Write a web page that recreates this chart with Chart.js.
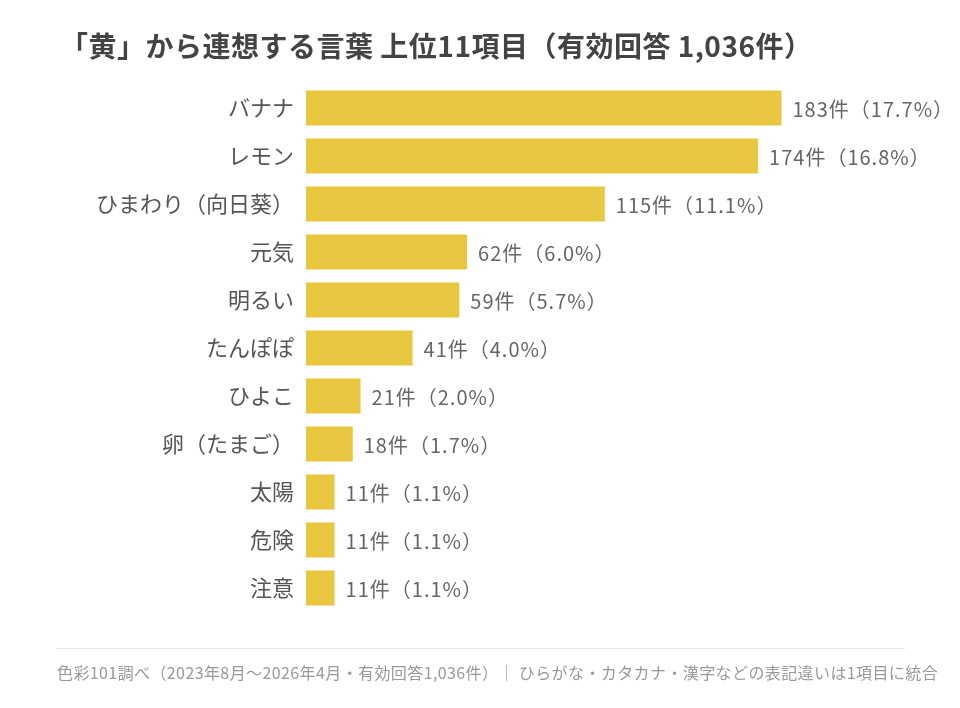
<!DOCTYPE html>
<html lang="ja">
<head>
<meta charset="utf-8">
<title>「黄」から連想する言葉</title>
<script src="https://cdn.jsdelivr.net/npm/chart.js@4/dist/chart.umd.min.js"></script>
<style>
  html, body { margin: 0; padding: 0; background: #fff; }
  #wrap { width: 960px; height: 708px; position: relative; }
</style>
</head>
<body>
<div id="wrap"><canvas id="yellowWordsChart"></canvas></div>
<script>
const titleText = '「黄」から連想する言葉 上位11項目（有効回答 1,036件）';
const footerText = '色彩101調べ（2023年8月〜2026年4月・有効回答1,036件）｜ ひらがな・カタカナ・漢字などの表記違いは1項目に統合';

const words = ['バナナ', 'レモン', 'ひまわり（向日葵）', '元気', '明るい', 'たんぽぽ', 'ひよこ', '卵（たまご）', '太陽', '危険', '注意'];
const counts = [183, 174, 115, 62, 59, 41, 21, 18, 11, 11, 11];
const shares = ['17.7', '16.8', '11.1', '6.0', '5.7', '4.0', '2.0', '1.7', '1.1', '1.1', '1.1'];

const FONT = '"Noto Sans CJK JP", "Noto Sans", sans-serif';

// title, footer rule, footer note and the value labels next to bars
const decorations = {
    id: 'decorations',
    afterDatasetsDraw(chart) {
        const ctx = chart.ctx;
        ctx.save();

        ctx.fillStyle = '#666';
        ctx.font = '20px ' + FONT;
        ctx.letterSpacing = '1px';
        ctx.textAlign = 'left';
        ctx.textBaseline = 'middle';
        chart.getDatasetMeta(0).data.forEach((bar, i) => {
            ctx.fillText(counts[i] + '件（' + shares[i] + '%）', bar.x + 11, bar.y + 1);
        });

        ctx.fillStyle = '#444';
        ctx.font = 'bold 28px ' + FONT;
        ctx.letterSpacing = '0.5px';
        ctx.fillText(titleText, 60, 46);

        ctx.strokeStyle = '#e6e6e6';
        ctx.lineWidth = 1;
        ctx.beginPath();
        ctx.moveTo(57, 648.5);
        ctx.lineTo(905, 648.5);
        ctx.stroke();

        ctx.fillStyle = '#999';
        ctx.font = '16px ' + FONT;
        ctx.letterSpacing = '0.4px';
        ctx.fillText(footerText, 57, 673);
        ctx.restore();
    }
};

const ctx = document.getElementById('yellowWordsChart').getContext('2d');
new Chart(ctx, {
    type: 'bar',
    data: {
        labels: words,
        datasets: [{
            data: counts,
            backgroundColor: '#e8c840',
            categoryPercentage: 1,
            barPercentage: 0.73,
        }]
    },
    options: {
        indexAxis: 'y',
        responsive: true,
        maintainAspectRatio: false,
        animation: false,
        layout: { padding: { top: 84, bottom: 96, left: 0, right: 20 } },
        plugins: {
            legend: { display: false },
            tooltip: { enabled: false }
        },
        scales: {
            x: {
                display: false,
                min: 0,
                max: 244
            },
            y: {
                grid: { display: false, drawTicks: false },
                border: { display: false },
                ticks: {
                    color: '#555',
                    padding: 12,
                    font: { family: FONT, size: 22 }
                },
                afterFit(scale) { scale.width = 306; }
            }
        }
    },
    plugins: [decorations]
});
</script>
</body>
</html>
